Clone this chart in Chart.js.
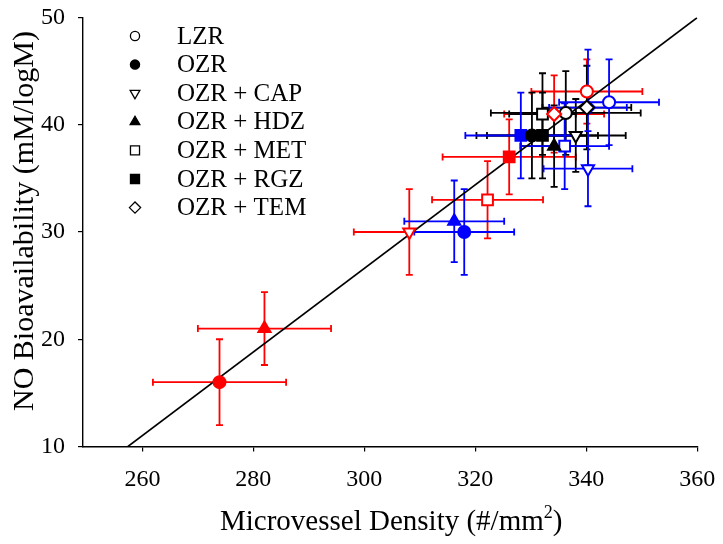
<!DOCTYPE html>
<html lang="en">
<head>
<meta charset="UTF-8">
<title>NO Bioavailability vs Microvessel Density</title>
<script src="https://cdn.jsdelivr.net/npm/chart.js"></script>
<style>
  html, body { margin: 0; padding: 0; background: #fff; }
  .wrap { width: 723px; height: 544px; }
</style>
</head>
<body>
<div class="wrap"><canvas id="mvdChart" width="723" height="544"></canvas></div>
<script>
// groups and the marker used for each one
const groups = ['LZR', 'OZR', 'OZR + CAP', 'OZR + HDZ', 'OZR + MET', 'OZR + RGZ', 'OZR + TEM'];
const shapes = ['circle', 'circle', 'triangle', 'triangle', 'rect', 'rect', 'rectRot'];
const filled = [false, true, false, true, false, true, false];
const rotations = [0, 0, 180, 0, 0, 0, 0];

// red series (group order as above)
const redX = [340.1, 273.9, 308.1, 282.0, 322.2, 326.1, 334.2];
const redY = [43.1, 16.0, 30.0, 21.0, 33.0, 37.0, 41.0];
const redXErr = [10, 12, 10, 12, 10, 12, 9];
const redYErr = [3, 4, 4, 3.4, 3.6, 3.5, 3.6];

// blue series
const blueX = [344.1, 318.0, 340.3, 316.2, 336.1, 328.2, 340.3];
const blueY = [42.1, 30.0, 35.9, 31.0, 38.0, 39.0, 41.6];
const blueXErr = [9, 9, 8, 9, 8, 10, 7];
const blueYErr = [4, 4, 3.5, 3.8, 4, 4, 5.4];

// black series
const blackX = [336.3, 330.2, 338.1, 334.2, 332.1, 332.1, 340.1];
const blackY = [41.1, 39.0, 39.0, 38.0, 41.0, 39.0, 41.6];
const blackXErr = [13.5, 10, 9, 6, 6, 10, 8];
const blackYErr = [3.9, 4, 3.4, 3.8, 3.8, 4, 3.9];

// regression line end points
const fitX = [257.4, 360];
const fitY = [10, 50];

const xTicks = [260, 280, 300, 320, 340, 360];
const yTicks = [10, 20, 30, 40, 50];

const FONT = '"Liberation Serif", "Times New Roman", serif';
const radii = shapes.map(s => s === 'rect' ? 7.6 : s === 'circle' ? 6 : 7);

function toPoints(xs, ys) {
    return xs.map((v, i) => ({ x: v, y: ys[i] }));
}

function series(color, xs, ys, xErr, yErr, order) {
    return {
        data: toPoints(xs, ys),
        xErr: xErr,
        yErr: yErr,
        order: order,
        borderColor: color,
        pointStyle: shapes,
        pointRotation: rotations,
        pointRadius: radii,
        pointHoverRadius: radii,
        pointBorderWidth: 2,
        pointBorderColor: color,
        pointBackgroundColor: filled.map(f => f ? color : '#ffffff')
    };
}

const errorBars = {
    id: 'errorBars',
    beforeDatasetsDraw(chart) {
        const { ctx, scales: { x, y } } = chart;
        const cap = 3.5;
        ctx.save();
        ctx.lineWidth = 1.8;
        chart.data.datasets.forEach(ds => {
            if (!ds.xErr) return;
            ctx.strokeStyle = ds.borderColor;
            ds.data.forEach((p, i) => {
                const px = x.getPixelForValue(p.x);
                const py = y.getPixelForValue(p.y);
                const x0 = x.getPixelForValue(p.x - ds.xErr[i]);
                const x1 = x.getPixelForValue(p.x + ds.xErr[i]);
                const y0 = y.getPixelForValue(p.y - ds.yErr[i]);
                const y1 = y.getPixelForValue(p.y + ds.yErr[i]);
                ctx.beginPath();
                ctx.moveTo(x0, py); ctx.lineTo(x1, py);
                ctx.moveTo(px, y0); ctx.lineTo(px, y1);
                ctx.moveTo(x0, py - cap); ctx.lineTo(x0, py + cap);
                ctx.moveTo(x1, py - cap); ctx.lineTo(x1, py + cap);
                ctx.moveTo(px - cap, y0); ctx.lineTo(px + cap, y0);
                ctx.moveTo(px - cap, y1); ctx.lineTo(px + cap, y1);
                ctx.stroke();
            });
        });
        ctx.restore();
    }
};

// legend in the top left corner and the two axis titles
const extras = {
    id: 'extras',
    afterDraw(chart) {
        const ctx = chart.ctx;
        ctx.save();
        ctx.strokeStyle = '#000';
        ctx.lineWidth = 1.3;
        groups.forEach((g, i) => {
            const cy = 36 + i * 28.6;
            ctx.fillStyle = filled[i] ? '#000' : '#fff';
            const r = shapes[i] === 'circle' ? 4.6 : shapes[i] === 'rect' ? 6.4 : 5.6;
            Chart.helpers.drawPoint(ctx, { pointStyle: shapes[i], radius: r, rotation: rotations[i], borderWidth: 1.3 }, 135, cy);
            ctx.fillStyle = '#000';
            ctx.font = '25px ' + FONT;
            ctx.textAlign = 'left';
            ctx.textBaseline = 'alphabetic';
            ctx.fillText(g, 177, cy + 7.5);
        });

        // x title with superscript
        ctx.fillStyle = '#000';
        ctx.textBaseline = 'alphabetic';
        ctx.textAlign = 'left';
        let tx = 220;
        const base = 530;
        const part1 = 'Microvessel Density (#/mm';
        ctx.font = '29px ' + FONT;
        ctx.fillText(part1, tx, base);
        tx += ctx.measureText(part1).width;
        ctx.font = '18px ' + FONT;
        ctx.fillText('2', tx, base - 12);
        tx += ctx.measureText('2').width;
        ctx.font = '29px ' + FONT;
        ctx.fillText(')', tx, base);

        // y title
        ctx.translate(25, 221);
        ctx.rotate(-Math.PI / 2);
        ctx.textAlign = 'center';
        ctx.textBaseline = 'middle';
        ctx.font = '30px ' + FONT;
        ctx.fillText('NO Bioavailability (mM/logM)', 0, 0);
        ctx.restore();
    }
};

new Chart(document.getElementById('mvdChart'), {
    type: 'scatter',
    data: {
        datasets: [
            series('#ff0000', redX, redY, redXErr, redYErr, 1),
            series('#000000', blackX, blackY, blackXErr, blackYErr, 2),
            series('#0000ff', blueX, blueY, blueXErr, blueYErr, 3),
            {
                data: toPoints(fitX, fitY),
                order: 4,
                showLine: true,
                borderColor: '#000',
                borderWidth: 1.6,
                pointRadius: 0,
                pointHoverRadius: 0
            }
        ]
    },
    options: {
        responsive: false,
        animation: false,
        devicePixelRatio: 1,
        layout: { padding: { top: 17.5, right: 25.7, left: 0, bottom: 0 } },
        plugins: { legend: { display: false }, tooltip: { enabled: false } },
        scales: {
            x: {
                type: 'linear',
                min: 249.3,
                max: 360,
                afterBuildTicks: s => { s.ticks = xTicks.map(v => ({ value: v })); },
                afterFit: s => { s.height = 97.5; s.paddingLeft = 0; s.paddingRight = 0; },
                grid: { drawOnChartArea: false, tickLength: 5, color: '#000', tickColor: '#000', lineWidth: 1.2 },
                border: { color: '#000', width: 1.4 },
                ticks: { color: '#000', padding: 14, maxRotation: 0, font: { family: FONT, size: 24 } }
            },
            y: {
                type: 'linear',
                min: 10,
                max: 50,
                afterBuildTicks: s => { s.ticks = yTicks.map(v => ({ value: v })); },
                afterFit: s => { s.width = 83; s.paddingTop = 0; s.paddingBottom = 0; },
                grid: { drawOnChartArea: false, tickLength: 5, color: '#000', tickColor: '#000', lineWidth: 1.2 },
                border: { color: '#000', width: 1.4 },
                ticks: { color: '#000', padding: 13, font: { family: FONT, size: 24 } }
            }
        }
    },
    plugins: [errorBars, extras]
});
</script>
</body>
</html>
